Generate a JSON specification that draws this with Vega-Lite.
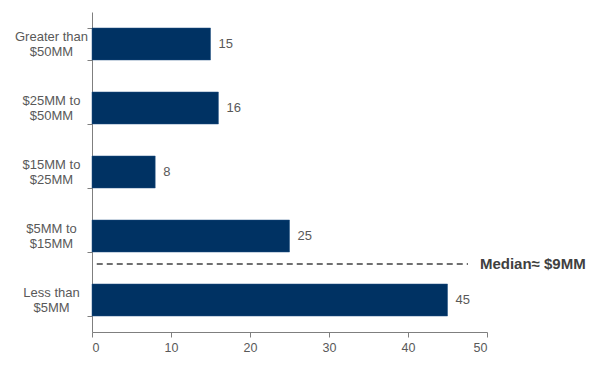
{
  "$schema": "https://vega.github.io/schema/vega-lite/v6.json",
  "width": 395,
  "height": 320,
  "autosize": {"type": "none"},
  "padding": {"left": 92, "top": 12, "right": 123, "bottom": 38},
  "background": "white",
  "config": {
    "view": {"stroke": null},
    "font": "Liberation Sans",
    "axis": {"grid": false, "domainColor": "#7f7f7f", "tickColor": "#7f7f7f", "labelColor": "#595959", "labelFontSize": 12, "title": null, "labelFont": "Liberation Sans"}
  },
  "data": {
    "values": [
      {"category": "Greater than|$50MM", "count": 15},
      {"category": "$25MM to|$50MM", "count": 16},
      {"category": "$15MM to|$25MM", "count": 8},
      {"category": "$5MM to|$15MM", "count": 25},
      {"category": "Less than|$5MM", "count": 45}
    ]
  },
  "encoding": {
    "y": {
      "field": "category",
      "type": "nominal",
      "sort": null,
      "scale": {"paddingInner": 0.5, "paddingOuter": 0.25},
      "axis": {
        "labelExpr": "split(datum.label, '|')",
        "labelAlign": "center",
        "labelPadding": 36,
        "labelFontSize": 13,
        "tickSize": 5,
        "tickBand": "extent",
        "labelLineHeight": 15,
        "labelBaseline": "middle",
        "labelOffset": -7.5
      }
    }
  },
  "layer": [
    {
      "mark": {"type": "bar", "color": "#003263", "stroke": "#1f4f80", "strokeWidth": 0.5},
      "encoding": {
        "x": {
          "field": "count",
          "type": "quantitative",
          "scale": {"domain": [0, 50], "nice": false},
          "axis": {"values": [0, 10, 20, 30, 40, 50], "tickSize": 5, "labelPadding": 4, "labelFontSize": 12.5}
        }
      }
    },
    {
      "mark": {"type": "text", "align": "left", "baseline": "middle", "dx": 8, "fontSize": 13, "color": "#595959"},
      "encoding": {
        "x": {"field": "count", "type": "quantitative"},
        "text": {"field": "count", "type": "quantitative"}
      }
    },
    {
      "data": {"values": [{"label": "Median≈ $9MM", "cat": "Less than|$5MM", "start": 0.6, "end": 47.6, "tx": 49.1}]},
      "layer": [
        {
          "mark": {"type": "rule", "strokeDash": [6, 4], "strokeWidth": 1.5, "color": "#404040"},
          "encoding": {
            "y": {"field": "cat", "type": "nominal", "bandPosition": -0.625},
            "x": {"field": "start", "type": "quantitative"},
            "x2": {"field": "end"}
          }
        },
        {
          "mark": {"type": "text", "align": "left", "baseline": "middle", "fontSize": 15, "fontWeight": "bold", "color": "#404040", "clip": false},
          "encoding": {
            "y": {"field": "cat", "type": "nominal", "bandPosition": -0.625},
            "x": {"field": "tx", "type": "quantitative"},
            "text": {"field": "label"}
          }
        }
      ]
    }
  ]
}
